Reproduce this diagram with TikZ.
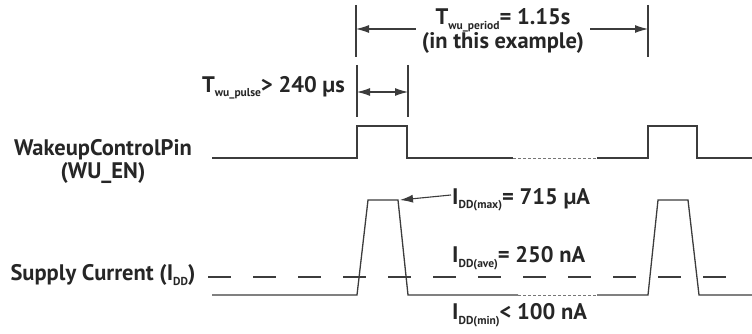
\documentclass[tikz,border=0pt]{standalone}
\usepackage{fontspec}
\setmainfont{PT Sans}
\usepackage{tikz}
\usetikzlibrary{arrows.meta, positioning}
\definecolor{wavegray}{RGB}{60,60,60}
\newcommand{\lowtxt}[1]{\raisebox{-0.4ex}{\fontsize{11.5}{11.5}\selectfont #1}}
\tikzstyle{lbl} = [font=\fontsize{22.5}{23}\selectfont\bfseries, inner sep=1pt, text=black!85]
\tikzstyle{wave} = [line width=1.3pt, draw=wavegray, line join=miter]
\tikzstyle{gapline} = [line width=0.9pt, draw=wavegray!70, dash pattern=on 3pt off 2pt]
\tikzstyle{avgline} = [line width=1.3pt, draw=wavegray, dash pattern=on 23pt off 22pt]
\tikzstyle{marker} = [line width=1.1pt, draw=wavegray]
\tikzstyle{arrow} = [-{Latex[length=13pt,width=8pt]}, line width=1.1pt, draw=wavegray]

\begin{document}
\begin{tikzpicture}[x=1pt, y=-1pt]
    \useasboundingbox (0,0) rectangle (752,334);

    \node (wulbl) [lbl] at (103,150) {WakeupControlPin};
    \node (wuen) [lbl, below=0pt of wulbl] {(WU\_EN)};
    \node (idd) [lbl] at (103,275) {Supply Current (I\lowtxt{DD})};

    \node (tper) [lbl, align=center, inner sep=6pt] at (503,31)
    {T\lowtxt{wu\_period}= 1.15s\\[-1pt](in this example)};
    \node (tpul) [lbl, anchor=east] at (346,88) {T\lowtxt{wu\_pulse}> 240 µs};

    \node (imax) [lbl, anchor=west] at (451,200) {I\lowtxt{DD(max)}= 715 µA};
    \node (iave) [lbl, anchor=west] at (451,258) {I\lowtxt{DD(ave)}= 250 nA};
    \node (imin) [lbl, anchor=west] at (451,315) {I\lowtxt{DD(min)}< 100 nA};

    \coordinate (pl) at (356,29);
    \coordinate (pr) at (648,29);
    \coordinate (ql) at (357,92);
    \coordinate (qr) at (408,92);
    \coordinate (ptop) at (400,200);

    \draw[marker] (356,5) -- (356,57);
    \draw[marker] (648,5) -- (648,57);
    \draw[marker] (357,65) -- (357,117);
    \draw[marker] (408,65) -- (408,117);

    \draw[arrow] (tper.west |- pl) -- (pl);
    \draw[arrow] (tper.east |- pr) -- (pr);
    \draw[arrow, {Latex[length=13pt,width=8pt]}-{Latex[length=13pt,width=8pt]}] (ql) -- (qr);

    \draw[wave] (212,158) -- (357,158) -- (357,126) -- (407,126) -- (407,158) -- (513,158);
    \draw[gapline] (513,158) -- (597,158);
    \draw[wave] (597,158) -- (648,158) -- (648,126) -- (697,126) -- (697,158) -- (752,158);

    \draw[wave] (212,295) -- (357,295) -- (368,200) -- (398,200) -- (408,295) -- (518,295);
    \draw[gapline] (518,295) -- (597,295);
    \draw[wave] (597,295) -- (648,295) -- (658,200) -- (688,200) -- (699,295) -- (752,295);
    \draw[avgline] (208,277) -- (735,277);

    \draw[arrow] ([yshift=5pt]imax.west) -- (ptop);
\end{tikzpicture}
\end{document}
